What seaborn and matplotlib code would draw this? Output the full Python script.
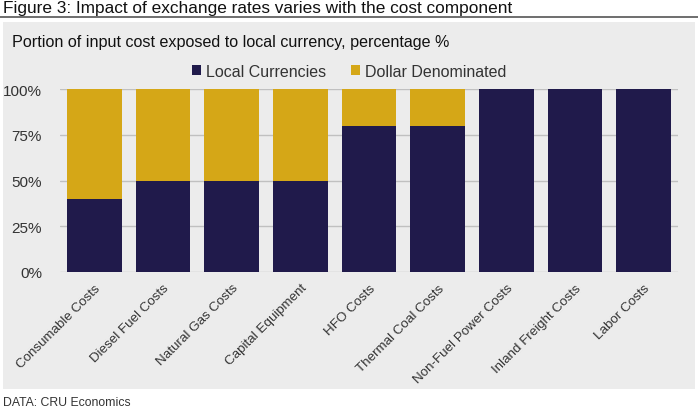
import matplotlib
matplotlib.use("Agg")
import matplotlib.pyplot as plt
import seaborn as sns
import pandas as pd
from matplotlib.patches import Rectangle
from matplotlib.lines import Line2D
from matplotlib.ticker import FuncFormatter

categories = ["Consumable Costs", "Diesel Fuel Costs", "Natural Gas Costs",
              "Capital Equipment", "HFO Costs", "Thermal Coal Costs",
              "Non-Fuel Power Costs", "Inland Freight Costs", "Labor Costs"]
local_share = [40, 50, 50, 50, 80, 80, 100, 100, 100]
dollar_share = [60, 50, 50, 50, 20, 20, 0, 0, 0]

navy = "#201a4b"
gold = "#d5a717"
panel_bg = "#ececec"

sns.set_theme(style="white")
plt.rcParams["font.family"] = ["Liberation Sans", "DejaVu Sans"]

df = pd.DataFrame({"cost": categories, "local": local_share, "dollar": dollar_share})
df["total"] = df["local"] + df["dollar"]

fig = plt.figure(figsize=(6.98, 4.10), dpi=100)
fig.patch.set_facecolor("white")

# grey panel and title rule
panel = Rectangle((3 / 698, 20 / 410), 692 / 698, 367 / 410,
                  transform=fig.transFigure, facecolor=panel_bg,
                  edgecolor="none", zorder=-5)
fig.add_artist(panel)
fig.add_artist(Line2D([0, 1], [1 - 18 / 410, 1 - 18 / 410], color="#555555",
                      lw=1.2, transform=fig.transFigure))

fig.text(3 / 698, 1 - 8 / 410, "Figure 3: Impact of exchange rates varies with the cost component",
         fontsize=12.4, va="center", ha="left", color="#111111")
fig.text(12 / 698, 1 - 43 / 410, "Portion of input cost exposed to local currency, percentage %",
         fontsize=11.6, va="center", ha="left", color="#111111")
fig.text(3 / 698, 1 - 403 / 410, "DATA: CRU Economics", fontsize=8.8,
         va="center", ha="left", color="#333333")

ax = fig.add_axes([60 / 698, 1 - 273 / 410, 618 / 698, 183 / 410])
ax.set_facecolor("none")

sns.barplot(data=df, x="cost", y="total", color=gold, width=0.8, ax=ax,
            saturation=1, linewidth=0, label="Dollar Denominated", zorder=3)
sns.barplot(data=df, x="cost", y="local", color=navy, width=0.8, ax=ax,
            saturation=1, linewidth=0, label="Local Currencies", zorder=4)

ax.set_ylim(0, 100)
ax.set_xlim(-0.5, len(categories) - 0.5)
ax.set_yticks([0, 25, 50, 75, 100])
ax.yaxis.set_major_formatter(FuncFormatter(lambda v, p: f"{int(v)}%"))
ax.yaxis.grid(True, color="#c0c0c0", lw=1.0, zorder=0)
ax.set_axisbelow(True)
for s in ax.spines.values():
    s.set_visible(False)
ax.set_xlabel("")
ax.set_ylabel("")
ax.tick_params(axis="y", length=0, pad=13, labelsize=11, labelcolor="#333333")
ax.tick_params(axis="x", length=0, pad=7, labelsize=9.6, labelcolor="#333333")
plt.setp(ax.get_xticklabels(), rotation=45, ha="right", rotation_mode="anchor")

handles, labels = ax.get_legend_handles_labels()
order = [labels.index("Local Currencies"), labels.index("Dollar Denominated")]
leg = ax.legend([handles[i] for i in order], [labels[i] for i in order],
                loc="lower center", bbox_to_anchor=(0.468, 1.0), ncol=2,
                frameon=False, fontsize=11.5, handlelength=0.55, handleheight=0.55,
                handletextpad=0.3, columnspacing=1.6, borderaxespad=0.25)
for t in leg.get_texts():
    t.set_color("#333333")

fig.savefig("out.png", dpi=100, facecolor=fig.get_facecolor())
